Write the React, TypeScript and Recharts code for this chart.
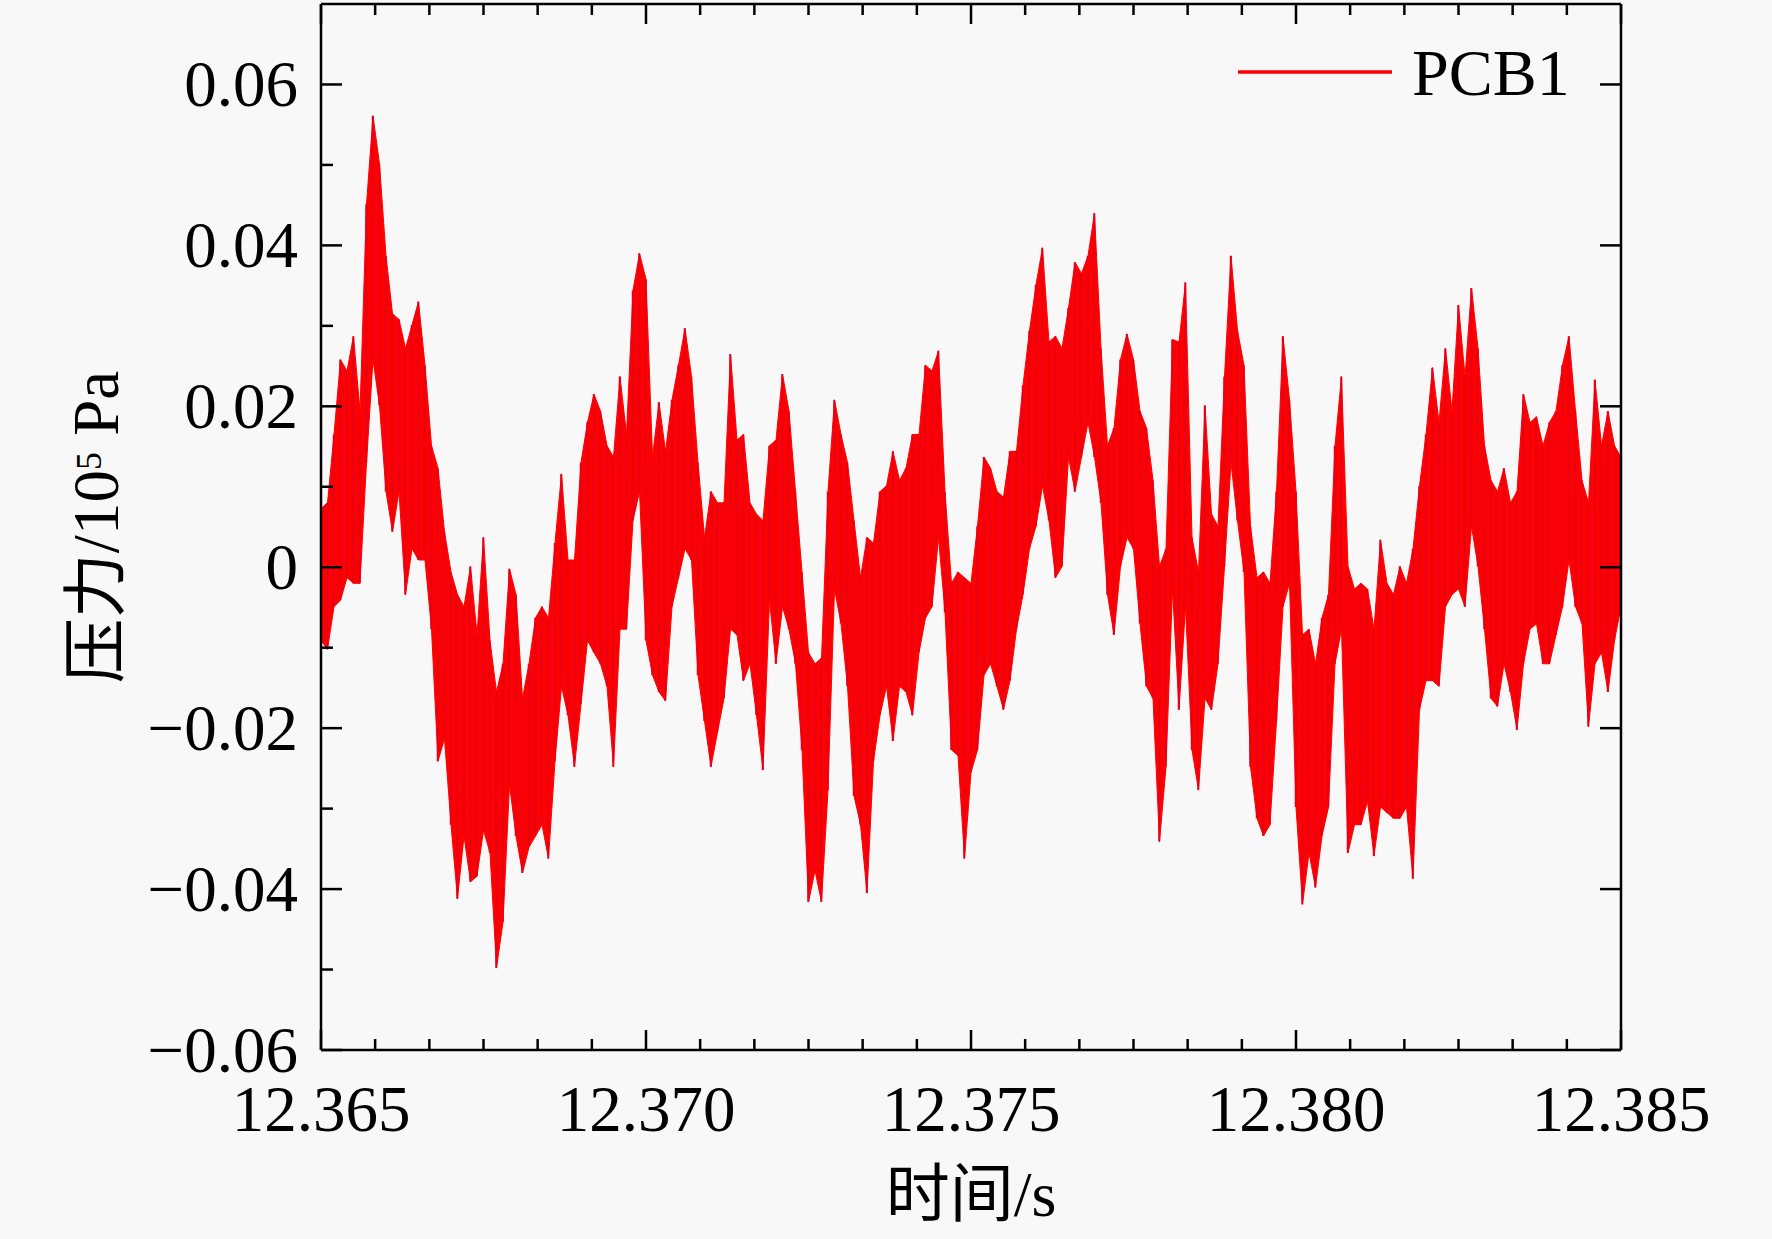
import React from "react";
import { ComposedChart, Area, Bar, XAxis, YAxis, Legend } from "recharts";

// Pressure trace PCB1, 12.365 s to 12.385 s, read every 0.1 ms as the
// upper and lower edge of the dense red band (unit: 10^5 Pa)
const startTime = 12.365;
const sampleStep = 0.0001;

const upper = [
  0.0073, 0.008, 0.0165, 0.0258, 0.0244, 0.0287, 0.0194, 0.0451, 0.0561, 0.0501,
  0.0387, 0.0315, 0.0308, 0.0272, 0.0301, 0.033, 0.0251, 0.0151, 0.0123, 0.0044,
  -0.0006, -0.0034, -0.0049, 0.0001, -0.0084, 0.0037, -0.0091, -0.0155, -0.012, -0.0002,
  -0.0034, -0.0163, -0.012, -0.0063, -0.0049, -0.0063, 0.003, 0.0116, 0.0009, 0.0009,
  0.013, 0.018, 0.0215, 0.0194, 0.0151, 0.0137, 0.0237, 0.0165, 0.0344, 0.039,
  0.0358, 0.0137, 0.0205, 0.0144, 0.0208, 0.0251, 0.0297, 0.0237, 0.013, 0.0037,
  0.0094, 0.008, 0.008, 0.0265, 0.0158, 0.0165, 0.008, 0.0066, 0.0058, 0.0151,
  0.0158, 0.024, 0.0194, 0.0094, -0.0006, -0.0106, -0.012, -0.0113, 0.0094, 0.0208,
  0.0165, 0.013, 0.0058, -0.0013, 0.0037, 0.003, 0.0094, 0.0101, 0.0144, 0.0108,
  0.0123, 0.0165, 0.0165, 0.0251, 0.0244, 0.0269, 0.0094, -0.002, -0.0006, -0.0013,
  -0.002, 0.0051, 0.0137, 0.0123, 0.0094, 0.0087, 0.0144, 0.0144, 0.0226, 0.0294,
  0.0351, 0.0397, 0.028, 0.0287, 0.0272, 0.0322, 0.0379, 0.0365, 0.0387, 0.044,
  0.0272, 0.0151, 0.0173, 0.0258, 0.029, 0.0258, 0.0194, 0.0173, 0.0108, 0.0001,
  0.0023, 0.0283, 0.028, 0.0354, 0.0037, -0.0006, 0.0201, 0.0066, 0.0051, 0.0237,
  0.0387, 0.0294, 0.0251, 0.0051, -0.0013, -0.0006, -0.002, 0.0094, 0.0287, 0.0208,
  0.0094, -0.0084, -0.0077, -0.012, -0.0063, -0.0034, 0.0151, 0.0237, 0.0001, -0.0027,
  -0.002, -0.0027, -0.0077, 0.0034, -0.002, -0.0034, 0.0001, -0.002, 0.0023, 0.0101,
  0.0165, 0.0248, 0.018, 0.0272, 0.0194, 0.0326, 0.0237, 0.0347, 0.0272, 0.0151,
  0.0108, 0.0094, 0.0123, 0.008, 0.0094, 0.0215, 0.018, 0.0187, 0.0151, 0.018,
  0.0194, 0.0251, 0.0287, 0.0194, 0.0108, 0.008, 0.0233, 0.0151, 0.0194, 0.0151,
  0.0137,
];

const lower = [
  -0.0091, -0.0102, -0.0049, -0.0041, -0.0013, -0.002, -0.002, 0.013, 0.0258, 0.0201,
  0.0094, 0.0044, 0.0094, -0.0034, 0.0023, 0.0009, 0.0009, -0.0077, -0.0241, -0.0213,
  -0.032, -0.0412, -0.0334, -0.0391, -0.0384, -0.0327, -0.0355, -0.0498, -0.0441, -0.027,
  -0.0334, -0.038, -0.0348, -0.0334, -0.032, -0.0362, -0.0241, -0.0148, -0.0184, -0.0248,
  -0.017, -0.0091, -0.0106, -0.012, -0.0148, -0.0248, -0.0077, -0.0077, 0.0058, 0.0094,
  -0.0091, -0.0134, -0.0155, -0.0166, -0.0049, -0.0013, 0.0023, 0.0009, -0.0134, -0.0191,
  -0.0248, -0.0205, -0.0163, -0.0077, -0.0084, -0.0141, -0.012, -0.0184, -0.0252, -0.0041,
  -0.012, -0.0049, -0.0077, -0.012, -0.0227, -0.0416, -0.0377, -0.0416, -0.0277, -0.0027,
  -0.007, -0.0148, -0.0284, -0.032, -0.0405, -0.0241, -0.0184, -0.0148, -0.0216, -0.0148,
  -0.0155, -0.0184, -0.0106, -0.0063, -0.0049, 0.0037, -0.0056, -0.0227, -0.0234, -0.0362,
  -0.0255, -0.0227, -0.0134, -0.012, -0.0148, -0.0177, -0.0141, -0.0077, -0.0034, 0.0023,
  0.0051, 0.0101, 0.0058, -0.0013, 0.0001, 0.0137, 0.0094, 0.0137, 0.018, 0.0137,
  0.008, -0.0034, -0.0084, 0.0001, 0.0037, 0.0023, -0.007, -0.0148, -0.0163, -0.0341,
  -0.0248, -0.0027, -0.0177, -0.0049, -0.0227, -0.0277, -0.0163, -0.0177, -0.012, 0.0001,
  0.013, 0.0058, -0.0006, -0.0248, -0.0312, -0.0334, -0.032, -0.0191, -0.0049, -0.002,
  -0.0298, -0.0419, -0.0355, -0.0398, -0.0334, -0.0298, -0.012, -0.0077, -0.0355, -0.032,
  -0.032, -0.0291, -0.0359, -0.0298, -0.0305, -0.0312, -0.0312, -0.0298, -0.0387, -0.0177,
  -0.0141, -0.0141, -0.0148, -0.0049, -0.0034, -0.0027, -0.0049, 0.0051, 0.0001, -0.0077,
  -0.0163, -0.0173, -0.012, -0.0155, -0.0202, -0.012, -0.0077, -0.007, -0.012, -0.012,
  -0.0084, -0.0049, 0.0009, -0.0049, -0.007, -0.0198, -0.012, -0.0106, -0.0155, -0.0091,
  -0.0049,
];

const xMajorTicks = [12.365, 12.37, 12.375, 12.38, 12.385];
const xMinorTicks = [
  12.365833, 12.366667, 12.3675, 12.368333, 12.369167,
  12.370833, 12.371667, 12.3725, 12.373333, 12.374167,
  12.375833, 12.376667, 12.3775, 12.378333, 12.379167,
  12.380833, 12.381667, 12.3825, 12.383333, 12.384167,
];
const yMajorTicks = [-0.06, -0.04, -0.02, 0, 0.02, 0.04, 0.06];
const yMinorTicks = [-0.05, -0.03, -0.01, 0.01, 0.03, 0.05];

const seriesName = "PCB1";
const xTitle = "时间/s";

const FONT = "'Liberation Serif', 'Times New Roman', 'Noto Sans CJK SC', serif";
const RED = "#ff0000";

const data = upper.map((hi, i) => ({
  t: startTime + i * sampleStep,
  band: [lower[i], hi],
}));

const xTicks = [...xMajorTicks, ...xMinorTicks].sort((a, b) => a - b);
const yTicks = [...yMajorTicks, ...yMinorTicks].sort((a, b) => a - b);

const isMajor = (v: number, majors: number[]) => majors.some((m) => Math.abs(m - v) < 1e-7);

const fmtY = (v: number) => (v === 0 ? "0" : v.toFixed(2).replace("-", "\u2212"));

function BottomTick(props: any) {
  const { x, y, payload } = props;
  const major = isMajor(payload.value, xMajorTicks);
  return (
    <g>
      <line x1={x} y1={y} x2={x} y2={y - (major ? 20 : 11)} stroke="#000" strokeWidth={2.5} />
      {major && (
        <text x={x} y={y + 81} textAnchor="middle" fontSize={65} fontFamily={FONT} fill="#000">
          {payload.value.toFixed(3)}
        </text>
      )}
    </g>
  );
}

function TopTick(props: any) {
  const { x, y, payload } = props;
  const major = isMajor(payload.value, xMajorTicks);
  return <line x1={x} y1={y} x2={x} y2={y + (major ? 20 : 11)} stroke="#000" strokeWidth={2.5} />;
}

function LeftTick(props: any) {
  const { x, y, payload } = props;
  const major = isMajor(payload.value, yMajorTicks);
  return (
    <g>
      <line x1={x} y1={y} x2={x + (major ? 21 : 12)} y2={y} stroke="#000" strokeWidth={2.5} />
      {major && (
        <text x={x - 23} y={y + 22} textAnchor="end" fontSize={65} fontFamily={FONT} fill="#000">
          {fmtY(payload.value)}
        </text>
      )}
    </g>
  );
}

function RightTick(props: any) {
  const { x, y } = props;
  return <line x1={x} y1={y} x2={x - 21} y2={y} stroke="#000" strokeWidth={2.5} />;
}

function XTitle(props: any) {
  const { viewBox } = props;
  return (
    <text
      x={viewBox.x + viewBox.width / 2}
      y={viewBox.y + 166}
      textAnchor="middle"
      fontSize={64}
      fontFamily={FONT}
      fill="#000"
    >
      {xTitle}
    </text>
  );
}

function YTitle(props: any) {
  const { viewBox } = props;
  const cx = viewBox.x + viewBox.width - 203;
  const cy = viewBox.y + viewBox.height / 2;
  return (
    <text
      x={cx}
      y={cy}
      transform={`rotate(-90, ${cx}, ${cy})`}
      textAnchor="middle"
      fontSize={65}
      fontFamily={FONT}
      fill="#000"
    >
      <tspan>压力/10</tspan>
      <tspan dy={-17} fontSize={36}>5</tspan>
      <tspan dy={17}> Pa</tspan>
    </text>
  );
}

function LegendBox(props: any) {
  const items = (props.payload || []).filter((p: any) => p.type !== "none");
  const item = items[0];
  return (
    <svg width={360} height={70} style={{ overflow: "visible", display: "block" }}>
      <line x1={8} y1={32} x2={162} y2={32} stroke={RED} strokeWidth={3.5} />
      <text x={182} y={55} fontSize={66} fontFamily={FONT} fill="#000">
        {item ? item.value : seriesName}
      </text>
    </svg>
  );
}

const axisLine = { stroke: "#000", strokeWidth: 2.5 };

export default function App() {
  return (
    <div style={{ width: 1772, height: 1239, background: "#f8f8f8" }}>
      <style>{`body{margin:0;background:#f8f8f8;}`}</style>
      <ComposedChart
        width={1772}
        height={1239}
        data={data}
        margin={{ top: 3, right: 150, bottom: 188, left: 320 }}
      >
        <XAxis
          xAxisId="bottom"
          type="number"
          dataKey="t"
          domain={[12.365, 12.385]}
          allowDataOverflow
          ticks={xTicks}
          interval={0}
          height={1}
          tickSize={0}
          tickMargin={0}
          tickLine={false}
          axisLine={axisLine}
          tick={<BottomTick />}
          label={(p: any) => <XTitle {...p} />}
        />
        <XAxis
          xAxisId="top"
          orientation="top"
          type="number"
          dataKey="t"
          domain={[12.365, 12.385]}
          allowDataOverflow
          ticks={xTicks}
          interval={0}
          height={1}
          tickSize={0}
          tickMargin={0}
          tickLine={false}
          axisLine={axisLine}
          tick={<TopTick />}
        />
        <YAxis
          yAxisId="left"
          type="number"
          domain={[-0.06, 0.07]}
          allowDataOverflow
          ticks={yTicks}
          interval={0}
          width={1}
          tickSize={0}
          tickMargin={0}
          tickLine={false}
          axisLine={axisLine}
          tick={<LeftTick />}
          label={(p: any) => <YTitle {...p} />}
        />
        <YAxis
          yAxisId="right"
          orientation="right"
          type="number"
          domain={[-0.06, 0.07]}
          allowDataOverflow
          ticks={yMajorTicks}
          interval={0}
          width={1}
          tickSize={0}
          tickMargin={0}
          tickLine={false}
          axisLine={axisLine}
          tick={<RightTick />}
        />
        <Area
          xAxisId="bottom"
          yAxisId="left"
          type="linear"
          dataKey="band"
          name={seriesName}
          stroke={RED}
          strokeWidth={1}
          fill={RED}
          fillOpacity={1}
          dot={false}
          activeDot={false}
          isAnimationActive={false}
        />
        <Bar
          xAxisId="bottom"
          yAxisId="left"
          dataKey="band"
          barSize={2}
          fill="#e8001a"
          legendType="none"
          isAnimationActive={false}
        />
        <Legend
          layout="horizontal"
          verticalAlign="middle"
          align="center"
          wrapperStyle={{ top: 40, left: 1230, width: 360, height: 70 }}
          content={(p: any) => <LegendBox {...p} />}
        />
      </ComposedChart>
    </div>
  );
}
